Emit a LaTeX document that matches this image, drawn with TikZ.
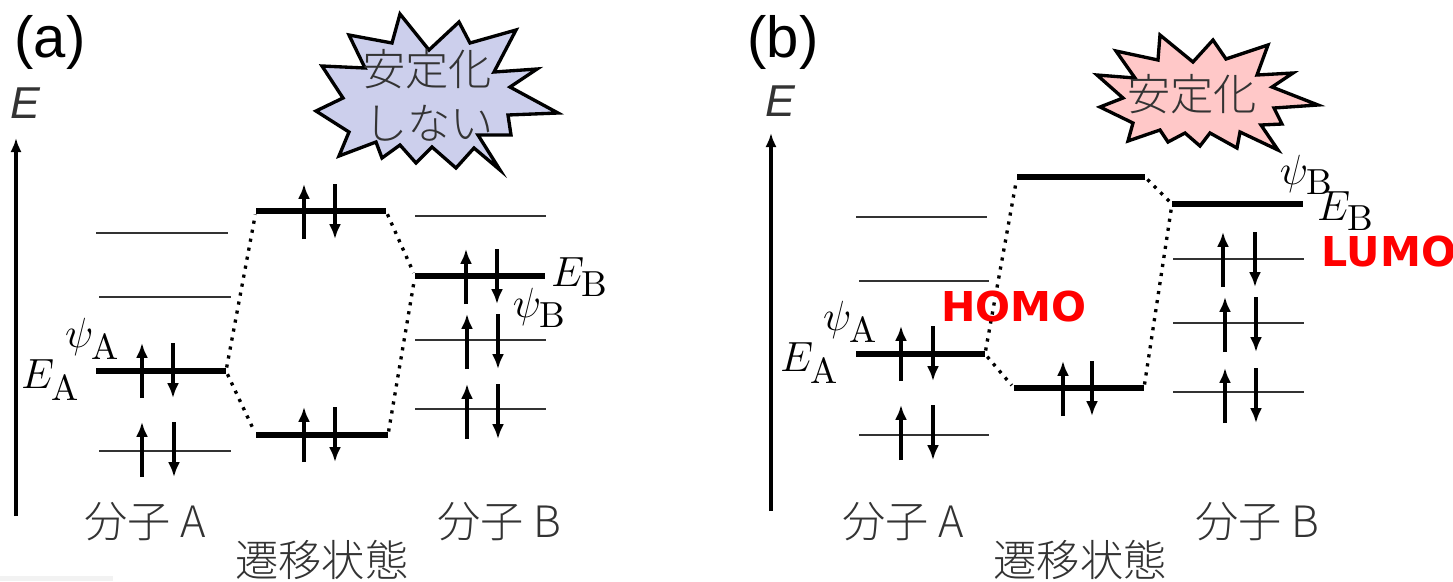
\documentclass[tikz,border=0pt]{standalone}
\usepackage{fontspec}
\usetikzlibrary{arrows.meta}
\newfontfamily\jpfont[UprightFont=* Light]{Noto Sans CJK JP}
\newfontfamily\latinfont{Liberation Sans}
\newfontfamily\boldfont{DejaVu Sans}
\DeclareMathSizes{12.5}{12.5}{10.3}{8}
\definecolor{burstblue}{RGB}{204,207,236}
\definecolor{burstpink}{RGB}{255,200,200}
\tikzset{
  axisline/.style={line width=0.95pt,-{Latex[length=4pt,width=3.2pt]}},
  elec/.style={line width=1.02pt,-{Latex[length=4.2pt,width=3.4pt]}},
  thicklevel/.style={line width=1.65pt},
  thinlevel/.style={line width=0.42pt,black!80},
  dotline/.style={line width=0.95pt,dash pattern=on 0.9pt off 1.7pt,shorten <=1pt,shorten >=1pt},
  burst/.style={line width=0.95pt,line join=miter,miter limit=20},
  jptext/.style={inner sep=0pt,text=black!80,font=\jpfont\fontsize{12.3}{15}\selectfont},
  panellabel/.style={inner sep=0pt,font=\latinfont\fontsize{16.5}{19}\selectfont},
  elabel/.style={inner sep=0pt,font=\latinfont\itshape\fontsize{12.7}{15}\selectfont,text=black!80},
  mathlabel/.style={inner sep=0pt,font=\fontsize{12.5}{15}\selectfont},
  redlabel/.style={inner sep=0pt,text=red,font=\boldfont\bfseries\fontsize{11.7}{14}\selectfont}
}
\begin{document}
\begin{tikzpicture}[x=0.01cm,y=-0.01cm,line cap=butt]
  \useasboundingbox (0,0) rectangle (1453,581);
  \fill[black!5] (0,576) rectangle (113,581);

  \node[panellabel] (panelA) at (50,42) {(a)};
  \node[elabel] (energyA) at (25,103) {E};
  \coordinate (axisAbot) at (16,516);
  \coordinate (axisAtop) at (16,138);
  \draw[axisline] (axisAbot) -- (axisAtop);

  \draw[burst,fill=burstblue] (400,14) -- (429,50) -- (459,22) -- (470,43) -- (516,30) -- (494,72)
    -- (537,69) -- (510,87) -- (558,113) -- (508,115) -- (511,135) -- (478,135) -- (500,170)
    -- (474,148) -- (456,168) -- (432,147) -- (416,163) -- (400,145) -- (382,158) -- (376,142)
    -- (339,156) -- (349,132) -- (316,111) -- (343,98) -- (322,66) -- (365,68) -- (349,35)
    -- (392,43) -- cycle;
  \node[jptext] (stableA) at (427,69) {安定化};
  \node[jptext] (stableB) at (429,123) {しない};

  \coordinate (aHomoL) at (96,371);
  \coordinate (aHomoR) at (226,371);
  \coordinate (tsUpL) at (256,211);
  \coordinate (tsUpR) at (386,211);
  \coordinate (tsLowL) at (256,435);
  \coordinate (tsLowR) at (388,435);
  \coordinate (bLevelL) at (415,276);
  \coordinate (bLevelR) at (545,276);
  \draw[thicklevel] (aHomoL) -- (aHomoR);
  \draw[thicklevel] (tsUpL) -- (tsUpR);
  \draw[thicklevel] (tsLowL) -- (tsLowR);
  \draw[thicklevel] (bLevelL) -- (bLevelR);
  \draw[dotline] (aHomoR) -- (tsUpL);
  \draw[dotline] (aHomoR) -- (tsLowL);
  \draw[dotline] (tsUpR) -- (bLevelL);
  \draw[dotline] (tsLowR) -- (bLevelL);

  \foreach \xa/\xb/\yy in {96/228/233,99/231/297,99/231/451,415/546/216,415/546/340,415/546/409}
    \draw[thinlevel] (\xa,\yy) -- (\xb,\yy);
  \foreach \xu/\xd/\yy in {142/173/398,142/174/477,304/335/239,304/335/462,466/497/304,467/498/369,467/498/439}{
    \draw[elec] (\xu,\yy) -- (\xu,\yy-55);
    \draw[elec] (\xd,\yy-55) -- (\xd,\yy);
  }

  \node[mathlabel] (psiA) at (93,339) {$\psi_{\mathrm{A}}$};
  \node[mathlabel] (enA) at (51,380) {$E_{\mathrm{A}}$};
  \node[mathlabel] (psiB) at (540,308) {$\psi_{\mathrm{B}}$};
  \node[mathlabel] (enB) at (580,277) {$E_{\mathrm{B}}$};
  \node[jptext] (molA) at (145,522) {分子 A};
  \node[jptext] (molB) at (499,522) {分子 B};
  \node[jptext] (tsA) at (322,560) {遷移状態};

  \node[panellabel] (panelB) at (783,42) {(b)};
  \node[elabel] (energyB) at (780,101) {E};
  \coordinate (axisBbot) at (771,511);
  \coordinate (axisBtop) at (771,133);
  \draw[axisline] (axisBbot) -- (axisBtop);

  \draw[burst,fill=burstpink] (1160,35) -- (1193,62) -- (1213,40) -- (1226,59) -- (1268,45) -- (1257,75)
    -- (1293,73) -- (1272,87) -- (1318,105) -- (1274,108) -- (1282,124) -- (1261,125) -- (1278,150)
    -- (1240,132) -- (1237,148) -- (1210,133) -- (1200,146) -- (1185,133) -- (1168,142) -- (1160,130)
    -- (1128,141) -- (1133,123) -- (1100,107) -- (1123,98) -- (1097,75) -- (1135,78) -- (1116,51)
    -- (1158,60) -- cycle;
  \node[jptext] (stableC) at (1192,94) {安定化};

  \coordinate (cHomoL) at (856,354);
  \coordinate (cHomoR) at (985,354);
  \coordinate (tsHighL) at (1017,177);
  \coordinate (tsHighR) at (1145,177);
  \coordinate (tsBotL) at (1014,388);
  \coordinate (tsBotR) at (1144,388);
  \coordinate (dLevelL) at (1172,204);
  \coordinate (dLevelR) at (1303,204);
  \draw[thicklevel] (cHomoL) -- (cHomoR);
  \draw[thicklevel] (tsHighL) -- (tsHighR);
  \draw[thicklevel] (tsBotL) -- (tsBotR);
  \draw[thicklevel] (dLevelL) -- (dLevelR);
  \draw[dotline] (cHomoR) -- (tsHighL);
  \draw[dotline] (cHomoR) -- (tsBotL);
  \draw[dotline] (tsHighR) -- (dLevelL);
  \draw[dotline] (tsBotR) -- (dLevelL);

  \foreach \xa/\xb/\yy in {856/987/217,859/989/281,859/989/435,1173/1304/259,1173/1304/323,1173/1304/392}
    \draw[thinlevel] (\xa,\yy) -- (\xb,\yy);
  \foreach \xu/\xd/\yy in {901/933/381,901/933/460,1063/1092/416,1223/1255/287,1225/1256/352,1225/1256/423}{
    \draw[elec] (\xu,\yy) -- (\xu,\yy-55);
    \draw[elec] (\xd,\yy-55) -- (\xd,\yy);
  }

  \node[mathlabel] (psiC) at (851,322) {$\psi_{\mathrm{A}}$};
  \node[mathlabel] (enC) at (810,363) {$E_{\mathrm{A}}$};
  \node[mathlabel] (psiD) at (1307,175) {$\psi_{\mathrm{B}}$};
  \node[mathlabel] (enD) at (1346,211) {$E_{\mathrm{B}}$};
  \node[redlabel] (homo) at (1014,307) {HOMO};
  \node[redlabel] (lumo) at (1389,252) {LUMO};
  \node[jptext] (molC) at (903,522) {分子 A};
  \node[jptext] (molD) at (1257,522) {分子 B};
  \node[jptext] (tsB) at (1080,560) {遷移状態};
\end{tikzpicture}
\end{document}
